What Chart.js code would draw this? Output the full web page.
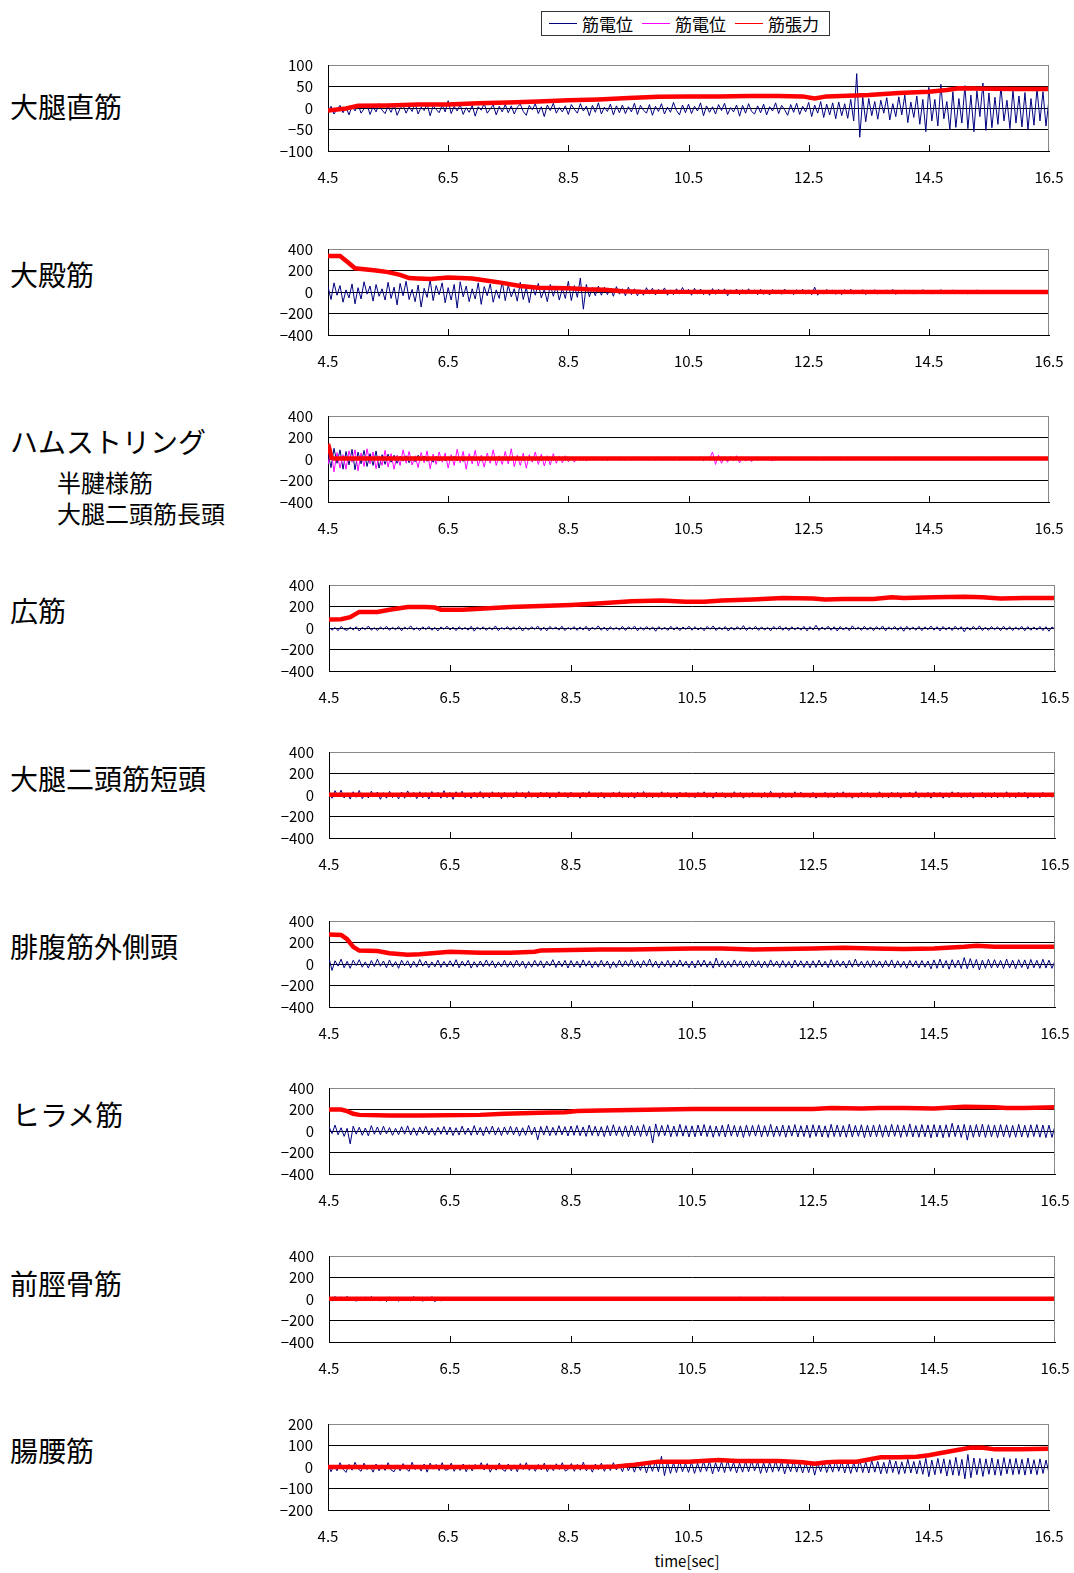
<!DOCTYPE html>
<html>
<head>
<meta charset="utf-8">
<script src="https://cdn.jsdelivr.net/npm/chart.js@4.4.0/dist/chart.umd.min.js"></script>
<style>
  body { margin: 0; background: #fff; width: 1074px; height: 1573px; position: relative; overflow: hidden;
         font-family: "Noto Sans CJK JP", sans-serif; color: #000; }
  .name { position: absolute; line-height: 1; white-space: nowrap; }
  .panel { position: absolute; }
  #legend { position: absolute; left: 541px; top: 11px; width: 289px; height: 25px; border: 1px solid #333;
            display: flex; align-items: center; font-size: 17px; box-sizing: border-box; padding-left: 7px; }
  #legend .ln { display: inline-block; width: 28px; height: 1px; margin-right: 5px; }
  #legend .it { margin-right: 9px; }
  #xtitle { position: absolute; left: 600px; width: 174px; top: 1550px; text-align: center; font-size: 15px; }
</style>
</head>
<body>
<div id="legend">
  <span class="ln" style="background:#000080"></span><span class="it">筋電位</span>
  <span class="ln" style="background:#ff00ff"></span><span class="it">筋電位</span>
  <span class="ln" style="background:#ff0000"></span><span>筋張力</span>
</div>
<div id="xtitle">time[sec]</div>

<script>
// time axis ticks
var xTicks = [4.5, 6.5, 8.5, 10.5, 12.5, 14.5, 16.5];

// muscle names (left column)
var muscleNames = ['大腿直筋', '大殿筋', 'ハムストリング', '半腱様筋', '大腿二頭筋長頭', '広筋',
                   '大腿二頭筋短頭', '腓腹筋外側頭', 'ヒラメ筋', '前脛骨筋', '腸腰筋'];

// EMG (筋電位) samples, 0.05 s apart from 4.5 to 16.5 s (one row = 1 s)
var emgRF = [
  -8,4,-14,-3,6,-11,2,-16,5,-7,9,-12,-2,7,-15,3,-9,10,-5,-13,
  4,-10,8,-17,-1,6,-12,3,-8,11,-14,2,-6,9,-18,5,-3,-11,7,-9,
  17,-13,4,-7,8,-15,1,-10,6,-19,3,-5,10,-12,-2,7,-16,4,-9,8,
  -11,5,-14,2,9,-8,-17,6,-4,10,-13,3,-20,7,-6,11,-12,1,-9,5,
  -15,8,-3,-12,10,-7,4,-18,6,-10,12,-14,2,-8,9,-16,5,-11,7,-13,
  3,-9,11,-15,6,-5,-12,8,-17,4,-8,10,-14,2,-10,13,-6,-16,7,-11,
  9,-13,4,-7,12,-18,5,-10,3,-14,8,-6,11,-15,1,-9,7,-19,6,-12,
  10,-8,-14,5,-11,9,-16,3,-7,12,-13,6,-4,-17,8,-10,11,-15,4,-9,
  13,-20,7,-12,15,-22,9,-16,12,-25,14,-18,10,-24,20,-30,80,-68,25,-32,
  22,-18,15,-26,18,-12,24,-28,10,-20,26,-16,30,-34,14,-22,28,-38,20,-55,
  48,-30,20,-42,55,-25,15,-50,38,-45,22,-35,52,-48,30,-55,40,-20,58,-52,
  35,-46,25,-38,50,-30,18,-48,42,-35,28,-44,36,-50,22,-40,45,-30,38,-42,
  20];
var emgGM = [
  50,-70,85,-30,60,-95,20,-55,75,-110,40,-65,95,-20,55,-85,70,-40,30,-75,
  90,-60,45,-120,80,-35,100,-70,25,-90,65,-140,35,-50,110,-80,60,-25,85,-100,
  40,-75,70,-150,95,-45,55,-90,30,-65,85,-115,50,-35,75,-95,20,-60,100,-80,
  65,-45,30,-85,90,-70,45,-100,60,-30,80,-55,25,-90,70,-40,55,-75,35,-60,
  100,-80,60,-50,130,-160,70,-45,40,-35,55,-30,45,-25,35,-40,50,-20,30,-35,
  45,-25,30,-35,20,-30,40,-20,35,-28,25,-15,38,-30,20,-25,30,-20,42,-18,
  25,-30,35,-20,28,-25,18,-30,32,-22,26,-18,30,-35,20,-15,28,-25,22,-20,
  30,-18,20,-25,26,-22,15,-28,24,-16,20,-22,28,-18,18,-25,22,-15,26,-20,
  20,-25,45,-30,18,-20,24,-15,20,-22,16,-25,22,-18,26,-20,18,-16,22,-24,
  18,-15,22,-20,16,-18,20,-14,24,-22,15,-17,20,-18,14,-20,18,-15,22,-16,
  16,-20,18,-14,22,-16,15,-18,20,-12,16,-15,18,-20,14,-16,20,-14,16,-18,
  15,-14,18,-16,12,-15,16,-12,14,-18,15,-13,12,-16,14,-12,16,-14,12,-10,
  10];
var emgHamB = [
  60,-80,100,-40,85,-95,70,-55,90,-100,65,-45,80,-70,50,-60,75,-85,40,-50,
  45,-30,35,-40,25,-20,30,-35,20,-25,35,-15,28,-22,18,-30,25,-20,15,-18,
  20,-15,25,-18,14,-22,18,-12,22,-16,15,-20,12,-14,18,-10,16,-15,20,-12,
  15,-12,18,-10,14,-16,12,-8,16,-12,10,-14,15,-9,12,-11,14,-8,10,-12,
  18,-10,12,-8,14,-12,10,-9,16,-8,12,-10,9,-12,14,-7,11,-9,13,-8,
  10,-8,14,-9,11,-7,12,-10,9,-8,15,-9,10,-7,12,-8,9,-10,11,-7,
  12,-9,10,-8,20,-15,12,-10,9,-8,11,-7,13,-9,10,-8,12,-7,9,-10,
  11,-8,14,-9,10,-7,12,-8,9,-10,11,-7,13,-8,10,-9,12,-7,10,-8,
  9,-8,12,-9,10,-7,11,-8,13,-9,10,-7,12,-8,9,-10,11,-7,10,-8,
  12,-7,10,-9,11,-8,14,-7,10,-9,12,-8,9,-7,11,-9,13,-8,10,-7,
  14,-8,11,-9,12,-7,15,-8,10,-9,13,-7,11,-8,12,-9,10,-7,14,-8,
  11,-9,12,-8,10,-7,13,-9,11,-8,12,-7,10,-9,14,-8,11,-7,10,-8,
  8];
var emgHamM = [
  -50,90,-120,60,-85,40,-95,75,-30,85,-110,55,-70,95,-45,65,-90,30,-60,80,
  -75,50,-95,35,-60,85,-40,70,-55,30,-80,60,-35,75,-90,45,-50,65,-30,55,
  -85,40,-60,90,-35,70,-95,50,-45,80,-65,35,-75,55,-40,85,-60,30,-50,70,
  -45,95,-70,35,-60,55,-85,40,-30,65,-50,45,-65,30,-55,50,-40,25,-35,30,
  -25,20,-30,15,-18,12,-20,10,-8,6,-5,4,-6,5,-4,5,-6,4,-5,6,
  -4,5,-6,4,-5,6,-4,5,-6,4,-5,6,-4,5,-6,4,-5,6,-4,5,
  -6,4,-5,6,-4,5,-6,4,65,-50,35,-40,20,-30,25,-15,30,-35,15,-20,
  10,-25,8,-6,5,-4,6,-5,-18,12,-6,5,-4,6,-5,4,-6,5,-4,6,
  -5,4,-6,5,-4,6,-5,4,-6,5,-4,6,-5,4,-6,5,-4,6,-5,4,
  -6,5,-4,6,-5,4,-6,5,-4,6,-5,4,-6,5,-4,6,-5,4,-6,5,
  -4,6,-5,4,-6,5,-4,6,-5,4,-6,5,-4,6,-5,4,-6,5,-4,6,
  -5,4,-6,5,-4,6,-5,4,-6,5,-4,6,-5,4,-6,5,-4,6,-5,4,
  -4];
var emgVL = [
  10,-20,5,-25,15,-12,-22,8,-18,12,-28,6,-15,18,-20,3,-24,10,-14,16,
  -22,7,-17,13,-26,9,-12,20,-19,4,-23,11,-16,14,-21,6,-27,10,-13,17,
  -18,8,-24,12,-15,5,-20,16,-29,9,-14,11,-22,7,-17,19,-25,4,-12,13,
  -21,10,-16,15,-28,6,-19,12,-13,18,-23,8,-26,14,-11,9,-20,17,-24,5,
  -15,13,-22,10,-18,16,-27,7,-14,20,-21,9,-25,12,-16,6,-19,15,-23,11,
  -12,18,-26,8,-20,14,-17,10,-30,13,-15,7,-22,16,-19,11,-24,9,-14,17,
  -21,12,-18,6,-25,15,-13,19,-23,8,-16,14,-28,10,-20,13,-17,22,-24,9,
  -15,16,-22,11,-19,7,-26,14,-13,18,-21,10,-24,12,-17,8,-20,15,-27,13,
  -18,25,-23,9,-16,17,-21,12,-28,14,-19,10,-25,20,-14,8,-22,16,-20,11,
  -24,13,-17,19,-26,9,-15,14,-22,12,-30,16,-18,10,-21,15,-25,11,-16,18,
  -20,12,-27,14,-19,9,-23,17,-16,13,-35,10,-21,15,-18,20,-24,8,-22,14,
  -17,11,-25,16,-20,12,-23,9,-18,15,-26,13,-21,10,-19,14,-24,12,-30,10,
  -12];
var emgBFs = [
  25,-30,40,-15,45,-28,20,-38,30,-22,42,-34,16,-28,36,-18,28,-40,22,-30,
  34,-24,18,-36,28,-30,38,-20,24,-34,30,-26,22,-38,32,-18,26,-30,40,-24,
  24,-40,30,-20,35,-26,18,-32,26,-24,32,-30,20,-28,30,-18,24,-34,26,-22,
  20,-28,30,-18,24,-30,32,-22,18,-28,26,-20,24,-30,20,-24,30,-18,22,-26,
  26,-20,18,-30,24,-22,32,-18,20,-26,24,-30,18,-22,26,-20,30,-24,18,-26,
  22,-30,26,-18,32,-24,20,-26,18,-22,30,-20,24,-26,20,-30,26,-18,24,-22,
  18,-26,24,-20,30,-24,20,-30,26,-18,22,-26,18,-24,30,-20,24,-30,20,-22,
  26,-18,20,-26,24,-22,35,-20,18,-30,24,-24,20,-26,30,-18,26,-22,18,-24,
  24,-30,18,-20,26,-24,20,-26,24,-18,30,-22,20,-30,18,-24,26,-20,24,-26,
  20,-22,30,-24,18,-26,26,-20,24,-30,20,-18,26,-24,32,-26,20,-22,24,-30,
  26,-20,24,-30,20,-24,30,-18,26,-26,20,-22,24,-30,18,-20,26,-24,20,-26,
  24,-26,20,-22,30,-24,18,-26,24,-20,26,-30,20,-24,18,-26,24,-20,18,-22,
  15];
var emgGL = [
  55,-60,30,-20,45,-35,25,-40,35,-15,40,-30,20,-38,32,-25,45,-22,28,-35,
  38,-28,22,-40,35,-18,30,-36,25,-30,42,-20,28,-34,20,-26,36,-32,24,-28,
  30,-24,40,-35,26,-20,34,-38,22,-30,28,-26,38,-22,30,-36,20,-28,35,-30,
  24,-32,36,-26,28,-40,22,-30,34,-24,30,-36,26,-20,40,-32,28,-26,34,-38,
  32,-28,26,-34,38,-22,30,-36,24,-30,35,-26,28,-40,22,-32,36,-28,30,-24,
  40,-30,26,-36,32,-24,45,-30,28,-38,24,-26,34,-32,30,-28,38,-24,26,-34,
  28,-36,34,-26,36,-30,24,-38,55,-28,32,-34,26,-30,38,-24,30,-36,28,-32,
  34,-28,30,-36,26,-32,38,-24,28,-34,32,-30,24,-38,36,-26,30,-32,28,-36,
  30,-32,36,-28,26,-34,40,-30,32,-26,28,-38,34,-30,45,-28,26,-34,30,-32,
  36,-30,28,-34,32,-28,38,-36,30,-32,26,-40,34,-28,30,-36,32,-30,28,-45,
  38,-40,45,-36,32,-48,40,-34,36,-42,60,-44,50,-38,42,-55,36,-40,44,-38,
  40,-36,34,-42,46,-38,36,-44,40,-34,38,-46,42,-36,34,-40,44,-38,36,-40,
  30];
var emgSOL = [
  40,-25,55,-35,30,-50,25,-120,45,-30,35,-40,28,-45,50,-30,38,-35,45,-28,
  32,-40,25,-35,40,-30,48,-38,30,-42,36,-28,44,-36,26,-40,34,-30,42,-35,
  36,-42,30,-38,45,-32,28,-40,50,-36,34,-44,40,-30,46,-38,32,-42,38,-34,
  44,-36,38,-48,30,-40,52,-35,36,-82,42,-38,48,-44,34,-40,50,-36,40,-46,
  46,-40,52,-44,38,-50,56,-42,44,-48,40,-52,50,-46,58,-44,42,-50,48,-54,
  54,-46,48,-52,60,-48,44,-112,66,-50,52,-44,58,-54,46,-50,62,-48,50,-56,
  48,-54,56,-46,60,-52,50,-58,46,-50,54,-56,62,-48,52,-54,48,-60,56,-50,
  52,-48,58,-56,50,-52,62,-54,46,-50,56,-58,52,-48,60,-56,50,-52,54,-62,
  58,-50,54,-56,48,-60,62,-52,56,-54,50,-58,64,-56,52,-50,58,-62,54,-56,
  56,-54,60,-58,52,-56,62,-50,58,-60,54,-52,66,-56,50,-58,60,-54,56,-64,
  60,-56,54,-62,58,-58,72,-52,56,-60,62,-85,54,-58,60,-56,64,-60,58,-54,
  56,-62,60,-54,58,-60,52,-58,62,-56,54,-60,58,-52,60,-58,56,-62,54,-60,
  50];
var emgTA = [
  18,-20,24,-14,20,-18,26,-12,18,-22,14,-16,20,-18,24,-14,16,-20,18,-24,
  20,-16,14,-22,18,-18,16,-20,24,-14,18,-22,16,-18,22,-26,14,-20,18,-16,
  12,-10,8,-12,10,-8,12,-11,8,-10,7,-9,10,-12,8,-10,11,-8,9,-11,
  10,-12,14,-10,8,-11,12,-9,16,-14,10,-12,8,-10,12,-11,9,-8,11,-12,
  8,-10,12,-9,10,-11,8,-12,14,-10,11,-8,12,-14,9,-10,8,-11,10,-9,
  12,-10,8,-11,14,-9,10,-12,8,-10,16,-11,9,-8,12,-10,11,-14,8,-9,
  10,-11,12,-8,9,-12,14,-10,8,-11,10,-9,12,-10,8,-11,16,-12,10,-8,
  11,-12,9,-10,18,-14,12,-11,10,-12,20,-16,14,-11,9,-10,12,-8,11,-10,
  8,-10,11,-9,12,-11,8,-10,14,-12,10,-9,12,-11,9,-10,13,-11,8,-12,
  10,-11,12,-9,8,-10,11,-12,14,-10,9,-11,12,-8,10,-11,13,-10,11,-9,
  12,-10,9,-11,14,-12,10,-9,11,-13,8,-10,12,-11,14,-10,9,-12,11,-10,
  13,-11,10,-9,12,-14,11,-10,9,-12,14,-11,10,-13,12,-9,11,-10,14,-11,
  10];
var emgIL = [
  15,-22,8,-18,20,-10,-25,12,-15,22,-8,-20,18,-12,6,-24,14,-18,10,-16,
  20,-14,-22,10,-18,16,-8,-20,22,-12,6,-19,14,-24,18,-10,12,-17,20,-15,
  -12,18,-20,8,-16,14,-22,10,-18,12,-9,20,-14,16,-24,6,-15,18,-11,-20,
  14,-18,10,-22,16,-12,20,-16,8,-20,12,-14,18,-22,10,-17,15,-12,20,-19,
  -10,16,-20,12,-15,22,-18,8,-24,14,-12,18,-20,10,-16,20,-14,12,-22,16,
  -18,14,-24,20,-16,22,-28,18,-20,26,-22,50,-40,24,-30,20,-26,28,-22,18,
  -25,22,-30,18,-24,26,-20,28,-32,20,-22,24,-26,30,-20,22,-28,18,-24,26,
  -22,28,-18,24,-30,20,-26,22,-24,28,-20,26,-32,18,-22,30,-24,20,-28,22,
  -26,24,-38,20,-22,28,-26,18,-24,30,-20,26,-28,22,-30,20,-24,32,-26,24,
  -28,30,-24,26,-32,22,-30,34,-26,28,-34,24,-30,36,-28,26,-32,30,-34,40,
  -45,32,-36,40,-30,38,-42,34,-38,45,-40,36,-55,58,-50,42,-36,40,-44,38,
  -34,42,-38,36,-40,44,-32,38,-36,40,-34,36,-38,42,-32,34,-36,38,-30,32,
  -28];

// muscle tension (筋張力): time points and values
var tenTimeRF = [4.5,4.8,5.0,5.5,6.0,6.5,7.0,7.5,8.0,8.5,9.0,9.5,10.0,10.5,11.0,11.5,12.0,12.4,12.6,12.8,13.5,14.0,14.5,14.8,15.0,15.5,16.0,16.5];
var tenRF     = [-6,-1,5,6,8,8,11,13,15,18,20,23,26,27,27,28,28,27,22,27,30,35,38,42,46,45,44,44];
var tenTimeGM = [4.5,4.7,4.8,4.95,5.3,5.5,5.7,5.85,6.0,6.2,6.5,6.9,7.1,7.4,7.7,8.0,8.5,8.8,9.1,9.4,9.7,16.5];
var tenGM     = [335,335,290,220,200,185,160,130,125,120,135,125,110,85,55,40,35,25,20,8,2,0];
var tenTimeHam = [4.5,4.52,4.56,4.6,16.5];
var tenHam     = [140,100,10,5,5];
var tenTimeVL = [4.5,4.7,4.85,5.0,5.3,5.5,5.8,6.1,6.25,6.35,6.7,7.0,7.5,8.0,8.5,9.0,9.5,10.0,10.4,10.7,11.0,11.5,12.0,12.5,12.7,13.0,13.5,13.8,14.0,14.5,15.0,15.3,15.6,16.0,16.5];
var tenVL     = [80,82,100,150,150,170,195,195,190,170,170,180,195,205,215,230,248,255,245,245,255,265,280,275,265,270,270,285,280,285,290,285,275,280,280];
var tenTimeBFs = [4.5,8.5,12.5,16.5];
var tenBFs     = [2,2,1,2];
var tenTimeGL = [4.5,4.7,4.8,4.9,5.0,5.3,5.5,5.8,6.0,6.5,7.0,7.5,7.9,8.0,8.5,9.0,9.5,10.0,10.5,11.0,11.5,12.0,12.5,13.0,13.5,14.0,14.5,15.0,15.2,15.5,16.0,16.5];
var tenGL     = [275,270,230,160,125,120,100,85,90,115,105,105,115,125,130,135,135,140,145,145,135,140,145,150,145,140,145,160,170,160,160,160];
var tenTimeSOL = [4.5,4.7,4.8,4.9,5.0,5.5,6.0,7.0,7.4,8.0,8.4,8.6,9.0,9.5,10.0,10.5,12.5,12.8,13.3,13.6,14.0,14.5,15.0,15.5,15.7,16.0,16.5];
var tenSOL     = [200,200,185,160,150,145,145,150,160,170,175,185,190,195,200,205,205,215,210,215,215,210,225,220,215,215,220];
var tenTimeTA = [4.5,16.5];
var tenTA     = [2,2];
var tenTimeIL = [4.5,9.0,9.3,9.6,9.8,10.0,10.5,11.0,11.3,11.6,12.0,12.4,12.6,12.8,13.0,13.3,13.5,13.7,14.0,14.3,14.5,14.7,15.0,15.2,15.4,15.6,16.0,16.5];
var tenIL     = [0,0,2,10,18,25,25,32,28,28,28,22,15,22,25,25,35,45,45,48,55,65,80,90,90,82,82,85];

// layout of the left-hand labels
var nameLayout = [
  { x: 10, y: 106, size: 28 }, { x: 10, y: 274, size: 28 }, { x: 10, y: 441, size: 28 },
  { x: 57, y: 482, size: 24 }, { x: 57, y: 513, size: 24 }, { x: 10, y: 610, size: 28 },
  { x: 10, y: 778, size: 28 }, { x: 10, y: 946, size: 28 }, { x: 12, y: 1114, size: 28 },
  { x: 10, y: 1283, size: 28 }, { x: 10, y: 1450, size: 28 }
];
muscleNames.forEach(function (n, i) {
  var d = document.createElement('div');
  d.className = 'name';
  d.textContent = n;
  d.style.left = nameLayout[i].x + 'px';
  d.style.top = (nameLayout[i].y - nameLayout[i].size / 2) + 'px';
  d.style.fontSize = nameLayout[i].size + 'px';
  document.body.appendChild(d);
});

var panels = [
  { emg: emgRF,  tt: tenTimeRF,  tv: tenRF,  top: 65,   left: 328, right: 1049, lim: 100 },
  { emg: emgGM,  tt: tenTimeGM,  tv: tenGM,  top: 249,  left: 328, right: 1049, lim: 400 },
  { emg: emgHamB, emg2: emgHamM, tt: tenTimeHam, tv: tenHam, top: 416, left: 328, right: 1049, lim: 400 },
  { emg: emgVL,  tt: tenTimeVL,  tv: tenVL,  top: 585,  left: 329, right: 1055, lim: 400 },
  { emg: emgBFs, tt: tenTimeBFs, tv: tenBFs, top: 752,  left: 329, right: 1055, lim: 400 },
  { emg: emgGL,  tt: tenTimeGL,  tv: tenGL,  top: 921,  left: 329, right: 1055, lim: 400 },
  { emg: emgSOL, tt: tenTimeSOL, tv: tenSOL, top: 1088, left: 329, right: 1055, lim: 400 },
  { emg: emgTA,  tt: tenTimeTA,  tv: tenTA,  top: 1256, left: 329, right: 1055, lim: 400 },
  { emg: emgIL,  tt: tenTimeIL,  tv: tenIL,  top: 1424, left: 328, right: 1049, lim: 200 }
];

function samples(vals) {
  // evenly sampled signal across the 4.5-16.5 s window
  return vals.map(function (v, i) {
    return { x: 4.5 + 12 * i / (vals.length - 1), y: v };
  });
}
function pairs(ts, vs) {
  return vs.map(function (v, i) { return { x: ts[i], y: v }; });
}

// inward tick marks on the time axis and the grey right frame
var frame = {
  id: 'frame',
  afterDraw: function (chart) {
    var a = chart.chartArea, c = chart.ctx, xs = chart.scales.x;
    c.save();
    c.lineWidth = 1;
    c.strokeStyle = '#000';
    xTicks.slice(1, -1).forEach(function (v) {
      var px = Math.round(xs.getPixelForValue(v)) + 0.5;
      c.beginPath(); c.moveTo(px, a.bottom); c.lineTo(px, a.bottom - 6); c.stroke();
    });
    c.strokeStyle = '#888';
    var rx = Math.round(a.right) - 0.5;
    c.beginPath(); c.moveTo(rx, a.top); c.lineTo(rx, a.bottom); c.stroke();
    c.restore();
  }
};

Chart.defaults.font.family = '"Noto Sans CJK JP", sans-serif';
Chart.defaults.font.size = 15;
Chart.defaults.color = '#000';

var PAD_TOP = 10, PLOT_H = 86, AXIS_H = 40, PAD_RIGHT = 30, BOX_LEFT = 250;

panels.forEach(function (p) {
  var box = document.createElement('div');
  box.className = 'panel';
  box.style.left = BOX_LEFT + 'px';
  box.style.top = (p.top - PAD_TOP) + 'px';
  box.style.width = (p.right - BOX_LEFT + PAD_RIGHT) + 'px';
  box.style.height = (PAD_TOP + PLOT_H + AXIS_H) + 'px';
  var cv = document.createElement('canvas');
  box.appendChild(cv);
  document.body.appendChild(box);

  var yTicks = [-p.lim, -p.lim / 2, 0, p.lim / 2, p.lim];

  var datasets = [{
    data: pairs(p.tt, p.tv), borderColor: '#ff0000', borderWidth: 4.5
  }];
  if (p.emg2) datasets.push({ data: samples(p.emg2), borderColor: '#ff00ff', borderWidth: 1 });
  datasets.push({ data: samples(p.emg), borderColor: '#000080', borderWidth: 1 });
  datasets.forEach(function (d) { d.pointRadius = 0; d.tension = 0; d.fill = false; });

  new Chart(cv.getContext('2d'), {
    type: 'line',
    data: { datasets: datasets },
    options: {
      responsive: true,
      maintainAspectRatio: false,
      animation: false,
      events: [],
      layout: { padding: { top: PAD_TOP, right: PAD_RIGHT, left: 0, bottom: 0 } },
      plugins: { legend: { display: false }, tooltip: { enabled: false } },
      scales: {
        x: {
          type: 'linear', min: 4.5, max: 16.5,
          afterBuildTicks: function (s) { s.ticks = xTicks.map(function (v) { return { value: v }; }); },
          afterFit: function (s) { s.height = AXIS_H; s.paddingLeft = 0; s.paddingRight = 0; },
          grid: { display: false, drawTicks: false },
          border: { display: true, color: '#000', width: 1 },
          ticks: { autoSkip: false, maxRotation: 0, padding: 17,
                   callback: function (v) { return v.toFixed(1); } }
        },
        y: {
          min: -p.lim, max: p.lim,
          afterBuildTicks: function (s) { s.ticks = yTicks.map(function (v) { return { value: v }; }); },
          afterFit: function (s) { s.width = p.left - BOX_LEFT; s.paddingTop = 0; s.paddingBottom = 0; },
          grid: { drawTicks: false,
                  color: function (ctx) { return ctx.tick && ctx.tick.value === p.lim ? '#888' : '#000'; } },
          border: { display: true, color: '#000', width: 1 },
          ticks: { padding: 15, autoSkip: false,
                   callback: function (v) { return String(v).replace('-', '\u2212'); } }
        }
      }
    },
    plugins: [frame]
  });
});
</script>
</body>
</html>
